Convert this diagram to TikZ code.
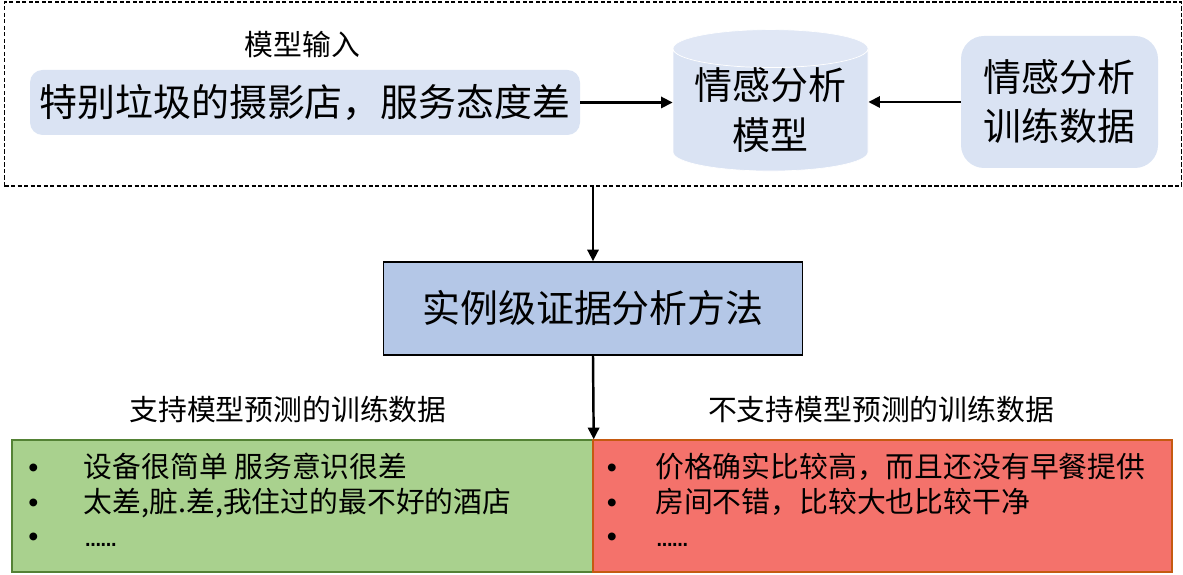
\documentclass[tikz,border=0pt]{standalone}
\usepackage{fontspec}
\setmainfont{Noto Sans CJK SC}
\newfontfamily\bulletfont{Liberation Sans}
\usetikzlibrary{shapes.geometric, arrows.meta, positioning}
\definecolor{lightblue}{RGB}{218,227,243}
\definecolor{midblue}{RGB}{180,199,231}
\definecolor{lightgreen}{RGB}{169,209,142}
\definecolor{darkgreen}{RGB}{84,130,53}
\definecolor{lightred}{RGB}{244,114,107}
\definecolor{darkorange}{RGB}{197,90,17}

\newcommand{\dotrow}{{\bulletfont.\kern-1.6pt.\kern-1.6pt.\kern-1.6pt.\kern-1.6pt.\kern-1.6pt.}}

\tikzset{
    bigtext/.style={font=\fontsize{21.6}{28}\selectfont},
    smalltext/.style={font=\fontsize{16.4}{20}\selectfont},
    flow/.style={line width=1.4pt, -{Triangle[length=6.6pt, width=6.4pt]}},
    item/.style={smalltext, anchor=base west, inner sep=0pt},
    dot/.style={font=\bulletfont\fontsize{16.4}{20}\selectfont, anchor=base, inner sep=0pt},
}

\begin{document}
\begin{tikzpicture}
        \useasboundingbox (0,0) rectangle (23.66,11.5);

        % Model input frame
        \node[draw, line width=0.8pt, dash pattern=on 2.4pt off 1.3pt,
              minimum width=23.54cm, minimum height=3.68cm] (frame) at (11.86,9.62) {};
        \node[smalltext] (inlabel) at (6.05,10.61) {模型输入};
        \node[bigtext, fill=lightblue, rounded corners=0.25cm,
              minimum width=11cm, minimum height=1.3cm] (sentence) at (6.1,9.45) {特别垃圾的摄影店，服务态度差};
        \node[bigtext, cylinder, shape border rotate=90, aspect=0.25, draw=white, inner sep=0pt,
              cylinder uses custom fill, cylinder body fill=lightblue, cylinder end fill=lightblue!85!white,
              minimum width=3.9cm, minimum height=2.72cm, align=center] (model) at (15.41,9.3) {情感分析\\模型};
        \node[bigtext, fill=lightblue, rounded corners=0.46cm, align=center,
              minimum width=3.94cm, minimum height=2.64cm] (trainset) at (21.19,9.46) {情感分析\\训练数据};

        \draw[flow] (sentence.east) -- (sentence.east -| model.west);
        \draw[flow] (trainset.west) -- (trainset.west -| model.east);

        % Evidence analysis
        \node[bigtext, draw, line width=0.9pt, fill=midblue,
              minimum width=8.38cm, minimum height=1.86cm] (method) at (11.86,5.33) {实例级证据分析方法};
        \draw[flow] (frame.south) -- (method.north);

        % Training data split
        \node[draw=darkgreen, line width=0.8pt, fill=lightgreen,
              minimum width=11.62cm, minimum height=2.64cm] (support) at (6.05,1.38) {};
        \node[draw=darkorange, line width=0.8pt, fill=lightred,
              minimum width=11.58cm, minimum height=2.64cm] (oppose) at (17.65,1.38) {};
        \draw[flow] (method.south) -- (support.north east);

        \node[smalltext] (supportlabel) at (5.76,3.3) {支持模型预测的训练数据};
        \node[smalltext] (opposelabel) at (17.62,3.3) {不支持模型预测的训练数据};

        \node[dot] (sb1) at (0.67,1.94) {•};
        \node[dot] (sb2) at (0.67,1.25) {•};
        \node[dot] (sb3) at (0.67,0.56) {•};
        \node[item] (s1) at (1.67,1.94) {设备很简单 服务意识很差};
        \node[item] (s2) at (1.67,1.25) {太差,脏.差,我住过的最不好的酒店};
        \node[item] (s3) at (1.67,0.56) {\dotrow};

        \node[dot] (ob1) at (12.24,1.94) {•};
        \node[dot] (ob2) at (12.24,1.25) {•};
        \node[dot] (ob3) at (12.24,0.56) {•};
        \node[item] (o1) at (13.1,1.94) {价格确实比较高，而且还没有早餐提供};
        \node[item] (o2) at (13.1,1.25) {房间不错，比较大也比较干净};
        \node[item] (o3) at (13.1,0.56) {\dotrow};

    \end{tikzpicture}
\end{document}
